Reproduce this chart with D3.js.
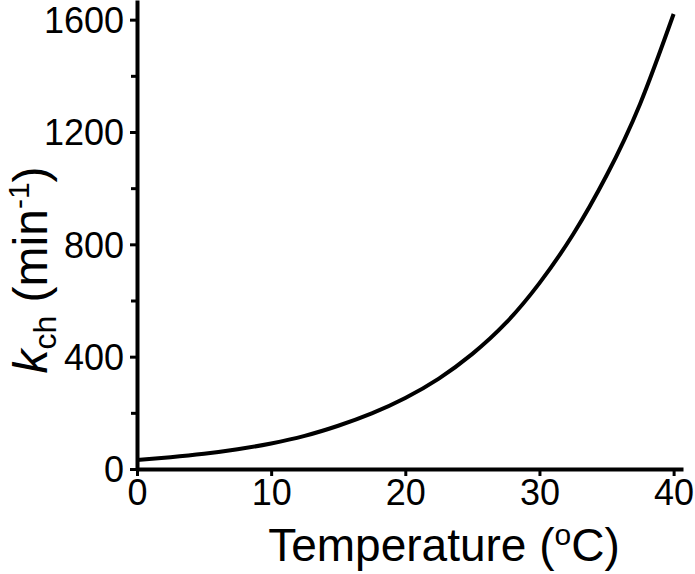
<!DOCTYPE html>
<html>
<head>
<meta charset="utf-8">
<script src="https://cdn.jsdelivr.net/npm/d3@7"></script>
<style>
  body { margin: 0; background: #fff; }
  svg text { font-family: "Liberation Sans", Arial, sans-serif; fill: #000; }
  .axis path, .axis line { stroke: #000; }
</style>
</head>
<body>
<div id="chart"></div>
<script>
// temperature (oC) and rate constant k_ch (min^-1)
var temps = [0, 2.5, 5, 7.5, 10, 12.5, 15, 17.5, 20, 22.5, 25, 27.5, 30, 32.5, 35, 37.5, 40];
var kch = [32, 42, 54, 70, 91, 118, 154, 198, 253, 322, 410, 520, 662, 835, 1045, 1300, 1620];

var xTicks = [0, 10, 20, 30, 40];
var yTicks = [0, 400, 800, 1200, 1600];
var yMinor = [200, 600, 1000, 1400];

var width = 695, height = 574;

var svg = d3.select("#chart").append("svg")
	.attr("width", width)
	.attr("height", height);

var x = d3.scaleLinear().domain([0, 40.7]).range([137, 683]);
var y = d3.scaleLinear().domain([0, 1670]).range([469, 0]);

// minor y ticks
svg.append("g")
	.attr("class", "axis")
	.attr("transform", "translate(137,0)")
	.call(d3.axisLeft(y).tickValues(yMinor).tickSize(6).tickFormat(""))
	.call(function(g) { g.select(".domain").remove(); })
	.selectAll("line").attr("stroke-width", 3);

// y axis
var yAxis = svg.append("g")
	.attr("class", "axis")
	.attr("transform", "translate(137,0)")
	.call(d3.axisLeft(y).tickValues(yTicks).tickSize(7).tickSizeOuter(0).tickPadding(6)
		.tickFormat(d3.format("d")));
yAxis.select(".domain").attr("stroke-width", 4);
yAxis.selectAll("line").attr("stroke-width", 3);
yAxis.selectAll("text").style("font-size", "36px").attr("dy", "0.36em");

// x axis
var xAxis = svg.append("g")
	.attr("class", "axis")
	.attr("transform", "translate(0,469)")
	.call(d3.axisBottom(x).tickValues(xTicks).tickSize(7).tickSizeOuter(0).tickPadding(3));
xAxis.select(".domain").attr("stroke-width", 4);
xAxis.selectAll("line").attr("stroke-width", 3);
xAxis.selectAll("text").style("font-size", "36px");

// curve
var line = d3.line()
	.x(function(d, i) { return x(temps[i]); })
	.y(function(d) { return y(d); })
	.curve(d3.curveNatural);

svg.append("path")
	.datum(kch)
	.attr("d", line)
	.attr("fill", "none")
	.attr("stroke", "#000")
	.attr("stroke-width", 4);

// x title
var xt = svg.append("text")
	.attr("x", 444)
	.attr("y", 561)
	.attr("text-anchor", "middle")
	.style("font-size", "46px");
xt.append("tspan").text("Temperature (");
xt.append("tspan").text("o").style("font-size", "30px").attr("dy", "-16");
xt.append("tspan").text("C)").attr("dy", "16");

// y title
var yt = svg.append("text")
	.attr("transform", "translate(47,270) rotate(-90)")
	.attr("text-anchor", "middle")
	.style("font-size", "48px");
yt.append("tspan").text("k").style("font-style", "italic");
yt.append("tspan").text("ch").style("font-size", "32px").attr("dy", "9");
yt.append("tspan").text(" (min").attr("dy", "-9");
yt.append("tspan").text("-1").style("font-size", "30px").attr("dy", "-18");
yt.append("tspan").text(")").attr("dy", "18");
</script>
</body>
</html>
